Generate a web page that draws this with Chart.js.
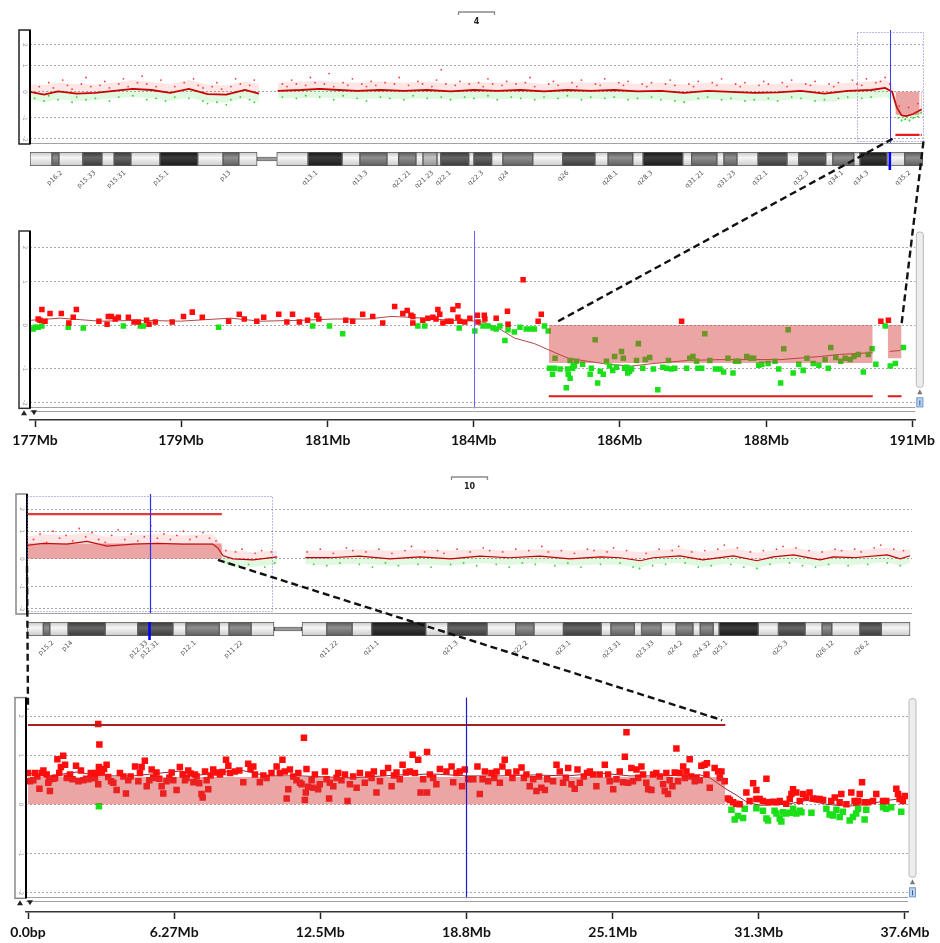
<!DOCTYPE html>
<html>
<head>
<meta charset="utf-8">
<script src="https://cdn.jsdelivr.net/npm/chart.js@4.4.1/dist/chart.umd.min.js"></script>
<style>
html, body { margin: 0; padding: 0; background: #fff; }
#wrap { position: relative; width: 940px; height: 943px; overflow: hidden; }
#wrap canvas { position: absolute; left: 0; }
</style>
</head>
<body>
<div id="wrap">
  <canvas id="c4o" style="top:0px" width="940" height="148"></canvas>
  <canvas id="c4i" style="top:152px" width="940" height="44"></canvas>
  <canvas id="c4z" style="top:227px" width="940" height="228"></canvas>
  <canvas id="c10o" style="top:465px" width="940" height="153"></canvas>
  <canvas id="c10i" style="top:622px" width="940" height="44"></canvas>
  <canvas id="c10z" style="top:693px" width="940" height="254"></canvas>
  <canvas id="ov" style="top:0px;pointer-events:none" width="940" height="943"></canvas>
</div>
<script>
// log ratio gridlines (outer lines labelled 2 / -2 sit a bit inside)
const yTickValues = [1.8, 1, 0, -1, -1.8];
const yTickLabels = ['2', '1', '0', '-1', '-2'];

// ---- chromosome 4 ----
const chr4Pos = [0, 3, 6, 10, 14, 18, 22, 26, 30, 34, 38, 42, 46, 49, 51, 53, 58, 62, 66, 70, 75, 80, 85, 90, 95, 100, 105, 110, 115, 120, 125, 130, 135, 140, 145, 150, 155, 160, 165, 170, 175, 180, 183, 184.5, 185.5, 186.5, 187.5, 189, 190.8];
const chr4Line = [0, -0.11, 0.02, -0.07, -0.04, 0.04, 0.11, 0.07, -0.04, 0.11, -0.09, -0.11, 0.07, -0.07, null, 0.04, 0.07, 0.11, 0.07, 0.04, 0.07, 0.04, 0.07, 0.02, 0.07, 0.04, 0.07, 0.02, 0.07, 0.04, 0.07, 0.02, 0.04, -0.04, 0.04, 0, -0.04, -0.02, 0.04, -0.07, 0.04, 0.07, 0.15, 0.0, -0.6, -0.9, -0.93, -0.85, -0.67];
const chr4Upper = [0.3, 0.25, 0.35, 0.3, 0.28, 0.35, 0.45, 0.38, 0.3, 0.45, 0.28, 0.25, 0.4, 0.3, null, 0.35, 0.4, 0.42, 0.38, 0.35, 0.4, 0.35, 0.4, 0.32, 0.38, 0.35, 0.38, 0.3, 0.38, 0.35, 0.38, 0.3, 0.35, 0.28, 0.35, 0.3, 0.28, 0.3, 0.35, 0.25, 0.35, 0.4, 0.45, 0.3, -0.6, -0.9, -0.93, -0.85, -0.67];
const chr4Lower = [-0.3, -0.4, -0.28, -0.35, -0.32, -0.25, -0.2, -0.25, -0.35, -0.22, -0.4, -0.42, -0.25, -0.38, null, -0.25, -0.25, -0.22, -0.25, -0.28, -0.25, -0.28, -0.25, -0.3, -0.25, -0.28, -0.25, -0.3, -0.25, -0.28, -0.25, -0.3, -0.28, -0.38, -0.28, -0.32, -0.36, -0.34, -0.28, -0.4, -0.28, -0.25, -0.2, -0.3, -0.85, -1.1, -1.12, -1.05, -0.9];
const chr4RedDots = [[2,0.2],[4,0.35],[5,0.15],[7,0.45],[8,0.25],[9,0.1],[11,0.3],[12,0.55],[13,0.2],[15,0.25],[16,0.4],[17,0.15],[19,0.3],[20,0.5],[21,0.2],[23,0.35],[24,0.6],[25,0.3],[27,0.2],[28,0.45],[31,0.2],[33,0.35],[35,0.5],[36,0.25],[37,0.15],[39,0.2],[40,0.35],[41,0.1],[43,0.2],[44,0.5],[45,0.3],[47,0.25],[48,0.45],[54,0.3],[55,0.2],[56,0.45],[57,0.3],[59,0.25],[60,0.55],[61,0.35],[63,0.3],[64,0.7],[65,0.2],[67,0.35],[68,0.25],[69,0.5],[71,0.3],[72,0.2],[73,0.4],[74,0.25],[76,0.35],[78,0.3],[79,0.55],[81,0.25],[83,0.4],[84,0.3],[86,0.2],[87,0.45],[88,0.85],[89,0.3],[91,0.25],[92,0.4],[94,0.3],[96,0.35],[97,0.2],[98,0.5],[99,0.3],[101,0.25],[102,0.4],[104,0.3],[106,0.35],[107,0.55],[108,0.2],[111,0.3],[112,0.4],[113,0.25],[116,0.35],[117,0.2],[118,0.45],[121,0.3],[122,0.25],[123,0.5],[126,0.35],[127,0.25],[128,0.4],[131,0.3],[132,0.2],[133,0.35],[136,0.3],[137,0.45],[138,0.25],[141,0.3],[142,0.2],[143,0.4],[146,0.35],[147,0.25],[148,0.5],[151,0.3],[152,0.2],[153,0.35],[156,0.25],[157,0.4],[158,0.3],[161,0.35],[162,0.2],[163,0.45],[166,0.3],[167,0.25],[168,0.4],[171,0.3],[172,0.2],[173,0.35],[176,0.45],[177,0.3],[178,0.25],[179,0.5],[181,0.35],[182,0.4],[183,0.55],[184,0.3],[186,-0.55],[188,-0.6],[190,-0.45]];
const chr4GreenDots = [[1,-0.25],[3,-0.35],[4,-0.15],[6,-0.3],[9,-0.4],[10,-0.2],[12,-0.3],[14,-0.25],[17,-0.35],[19,-0.2],[22,-0.15],[25,-0.3],[27,-0.25],[29,-0.35],[31,-0.2],[34,-0.25],[37,-0.35],[38,-0.45],[40,-0.4],[42,-0.5],[43,-0.3],[45,-0.2],[47,-0.3],[48,-0.4],[54,-0.2],[57,-0.25],[59,-0.15],[62,-0.2],[65,-0.3],[67,-0.15],[70,-0.25],[72,-0.35],[75,-0.2],[77,-0.25],[80,-0.3],[82,-0.15],[85,-0.25],[88,-0.2],[90,-0.3],[93,-0.2],[95,-0.25],[98,-0.15],[100,-0.3],[103,-0.2],[105,-0.25],[108,-0.3],[110,-0.2],[113,-0.25],[115,-0.15],[118,-0.3],[120,-0.2],[123,-0.25],[125,-0.2],[128,-0.3],[130,-0.25],[133,-0.2],[135,-0.3],[138,-0.35],[140,-0.4],[143,-0.25],[145,-0.2],[148,-0.3],[150,-0.25],[153,-0.35],[155,-0.3],[158,-0.25],[160,-0.35],[163,-0.2],[165,-0.25],[168,-0.35],[170,-0.3],[173,-0.25],[175,-0.2],[178,-0.25],[180,-0.2],[185.8,-1.0],[186.5,-1.1],[187.3,-1.05],[188.2,-1.1],[189,-1.0],[190,-0.95],[190.7,-0.8]];

const chr4Bands = [[0,4.7,'L'],[4.7,6.2,'G'],[6.2,11.3,'L'],[11.3,15.4,'D'],[15.4,18.0,'L'],[18.0,21.6,'D'],[21.6,27.8,'L'],[27.8,35.9,'K'],[35.9,41.3,'L'],[41.3,44.7,'G'],[44.7,48.6,'L'],[52.8,59.5,'L'],[59.5,66.8,'K'],[66.8,70.6,'L'],[70.6,76.4,'G'],[76.4,78.9,'L'],[78.9,82.6,'G'],[82.6,84.1,'L'],[84.1,87.1,'LG'],[87.1,87.9,'L'],[87.9,93.9,'D'],[93.9,95.0,'L'],[95.0,98.8,'D'],[98.8,101.2,'L'],[101.2,107.6,'G'],[107.6,114.0,'L'],[114.0,120.9,'D'],[120.9,123.7,'L'],[123.7,129.0,'G'],[129.0,131.2,'L'],[131.2,139.7,'K'],[139.7,141.6,'L'],[141.6,147.0,'G'],[147.0,148.5,'L'],[148.5,151.3,'G'],[151.3,155.8,'L'],[155.8,162.0,'D'],[162.0,164.5,'L'],[164.5,170.3,'D'],[170.3,171.8,'L'],[171.8,176.3,'G'],[176.3,177.6,'L'],[177.6,183.4,'K'],[183.4,187.2,'L'],[187.2,191.1,'G']];
const chr4Cen = [48.6, 52.8];
const chr4BandLabelPos = [6.8, 13.9, 20.3, 29.5, 42.8, 61.4, 72.1, 81.3, 86.2, 89.9, 96.9, 102.3, 115.1, 125.6, 133.1, 144.0, 150.8, 157.7, 166.5, 173.9, 179.3, 188.3];
const chr4BandLabels = ['p16.2', 'p15.33', 'p15.31', 'p15.1', 'p13', 'q13.1', 'q13.3', 'q21.21', 'q21.23', 'q22.1', 'q22.3', 'q24', 'q26', 'q28.1', 'q28.3', 'q31.21', 'q31.23', 'q32.1', 'q32.3', 'q34.1', 'q34.3', 'q35.2'];

// chr4 zoom 177-191 Mb
const zoom4Ticks = [177, 179.33, 181.67, 184, 186.33, 188.67, 191];
const zoom4TickLabels = ['177Mb', '179Mb', '181Mb', '184Mb', '186Mb', '188Mb', '191Mb'];
const zoom4Line = [[176.92,0.11],[177.40,0.16],[178.04,0.09],[178.68,0.11],[179.32,0.09],[180.12,0.16],[180.60,0.09],[181.23,0.11],[181.77,0.14],[182.31,0.14],[182.68,0.20],[183.00,0.18],[183.37,0.14],[183.64,0.11],[184.07,0.09],[184.20,0.05],[184.44,-0.11],[184.65,-0.30],[184.97,-0.43],[185.19,-0.57],[185.51,-0.77],[185.83,-0.84],[186.15,-0.91],[186.52,-0.95],[186.88,-0.89],[187.42,-0.82],[187.95,-0.80],[188.90,-0.80],[189.52,-0.73],[189.84,-0.68],[190.37,-0.64],[190.5,null],[190.64,-0.61],[190.81,-0.59]];
const zoom4Red = [[177.05,0.14],[177.11,0.36],[177.08,0.11],[177.16,0.09],[177.24,0.27],[177.42,0.27],[177.54,0.05],[177.61,0.18],[177.66,0.36],[178.02,0.09],[178.15,0.02],[178.17,0.20],[178.22,0.20],[178.28,0.14],[178.33,0.18],[178.49,0.18],[178.58,0.07],[178.65,0.07],[178.78,0.11],[178.82,0.02],[178.92,0.07],[179.19,0.07],[179.37,0.20],[179.51,0.30],[179.67,0.18],[180.09,0.09],[180.26,0.25],[180.34,0.14],[180.54,0.09],[180.65,0.18],[180.89,0.25],[181.02,0.07],[181.11,0.25],[181.22,0.07],[181.35,0.11],[181.50,0.23],[181.53,0.14],[181.96,0.11],[182.07,0.09],[182.23,0.25],[182.39,0.20],[182.55,0.05],[182.74,0.43],[182.87,0.27],[182.94,0.34],[183.00,0.23],[183.03,0.20],[183.03,0.05],[183.19,0.11],[183.27,0.16],[183.35,0.18],[183.40,0.14],[183.43,0.36],[183.46,0.25],[183.51,0.05],[183.58,0.09],[183.64,0.09],[183.67,0.36],[183.75,0.45],[183.75,0.18],[183.78,0.09],[183.86,0.07],[183.94,0.16],[184.06,0.23],[184.07,0.07],[184.17,0.23],[184.18,0.14],[184.36,0.16],[184.54,0.32],[184.55,0.02],[184.79,1.05],[185.08,0.25],[185.03,0.09],[187.32,0.09],[190.50,0.09],[190.62,0.11]];
const zoom4Green = [[176.97,-0.09],[177.00,-0.05],[177.05,-0.05],[177.11,-0.02],[177.53,-0.05],[177.77,-0.07],[178.41,-0.02],[178.68,-0.02],[178.73,-0.02],[179.93,-0.05],[181.43,-0.02],[181.70,-0.02],[181.91,-0.20],[183.11,-0.02],[183.22,-0.02],[183.77,-0.07],[184.02,-0.14],[184.15,-0.02],[184.23,-0.02],[184.31,-0.07],[184.36,-0.09],[184.42,-0.02],[184.50,-0.36],[184.55,-0.11],[184.65,-0.16],[184.74,-0.05],[184.84,-0.09],[184.92,-0.09],[184.97,-0.09],[185.13,-0.02],[185.19,-0.14],[185.30,-0.77],[185.21,-1.0],[185.26,-1.14],[185.29,-1.0],[185.38,-1.02],[185.50,-1.02],[185.54,-0.82],[185.59,-0.93],[185.64,-0.84],[185.51,-1.14],[185.54,-1.23],[185.48,-1.45],[185.58,-1.0],[185.61,-0.95],[185.74,-0.91],[185.86,-1.14],[185.88,-1.0],[185.94,-0.34],[185.98,-1.34],[186.02,-1.07],[186.07,-1.14],[186.12,-0.84],[186.17,-0.95],[186.22,-1.05],[186.25,-0.73],[186.28,-0.98],[186.36,-0.61],[186.39,-0.77],[186.44,-0.98],[186.49,-1.07],[186.41,-1.0],[186.46,-1.11],[186.52,-1.02],[186.60,-0.82],[186.63,-0.43],[186.70,-1.0],[186.74,-0.80],[186.81,-0.75],[186.87,-1.02],[186.94,-1.50],[187.02,-0.98],[187.08,-1.0],[187.11,-0.82],[187.16,-1.02],[187.21,-1.0],[187.40,-1.0],[187.45,-0.77],[187.50,-0.73],[187.56,-0.84],[187.58,-1.0],[187.64,-1.0],[187.69,-0.20],[187.77,-0.82],[187.86,-1.02],[187.93,-1.02],[187.99,-1.09],[188.06,-0.77],[188.14,-1.11],[188.18,-0.84],[188.23,-0.84],[188.36,-0.73],[188.42,-0.77],[188.47,-0.77],[188.55,-0.93],[188.60,-0.91],[188.70,-0.89],[188.81,-0.84],[188.87,-1.02],[188.90,-1.34],[188.95,-0.55],[189.02,-0.11],[189.10,-1.11],[189.19,-0.91],[189.26,-1.05],[189.32,-0.77],[189.42,-0.89],[189.51,-0.93],[189.61,-0.80],[189.66,-1.0],[189.70,-0.52],[189.78,-0.75],[189.86,-0.84],[189.93,-0.77],[190.01,-0.80],[190.07,-0.73],[190.14,-0.68],[190.22,-1.09],[190.30,-0.68],[190.36,-0.55],[190.42,-0.91],[190.57,-0.02],[190.65,-0.95],[190.73,-0.89],[190.86,-0.52]];
const seg4Start = [185.2, 190.61];
const seg4End = [190.37, 190.83];
const seg4Mean = [-0.88, -0.77];
const seg4Marker = -1.65;

// ---- chromosome 10 ----
const chr10Pos = [0, 2.5, 6.1, 9.2, 12.3, 16.3, 20, 23.9, 28.5, 29.3, 30.1, 31.6, 34.7, 38.4, 40.5, 42.7, 46.5, 51, 55.7, 60.3, 65, 69.5, 74, 78.7, 83.3, 88, 91, 94.1, 96.1, 100.2, 103.7, 108.4, 112, 114.5, 117.6, 121.7, 123.7, 126.8, 132, 134, 135.5];
const chr10Line = [0.49, 0.56, 0.53, 0.63, 0.46, 0.53, 0.56, 0.53, 0.53, 0.39, 0.11, 0, -0.04, 0.07, null, 0.04, 0.04, 0.1, 0, 0.07, 0, 0.1, 0.04, 0.1, 0, 0.07, 0.04, -0.07, 0.04, 0.11, -0.04, 0.11, -0.07, 0.07, 0.14, -0.04, 0.07, 0.04, 0.14, 0, 0.11];
const chr10Upper = [0.8, 0.9, 0.85, 0.95, 0.8, 0.85, 0.9, 0.85, 0.9, 0.7, 0.35, 0.3, 0.25, 0.3, null, 0.3, 0.3, 0.35, 0.3, 0.35, 0.3, 0.35, 0.3, 0.35, 0.3, 0.35, 0.3, 0.25, 0.3, 0.38, 0.25, 0.38, 0.22, 0.3, 0.4, 0.25, 0.35, 0.3, 0.4, 0.3, 0.35];
const chr10Lower = [0.49, 0.56, 0.53, 0.63, 0.46, 0.53, 0.56, 0.53, 0.53, 0.39, -0.15, -0.3, -0.3, -0.2, null, -0.2, -0.22, -0.18, -0.25, -0.2, -0.25, -0.15, -0.22, -0.15, -0.25, -0.2, -0.22, -0.32, -0.2, -0.15, -0.3, -0.15, -0.32, -0.2, -0.12, -0.3, -0.2, -0.22, -0.12, -0.25, -0.15];
const chr10RedDots = [[1,0.7],[2,0.9],[3,0.6],[4,1.0],[5,0.75],[6,0.85],[7,0.65],[8,1.1],[9,0.8],[10,0.95],[11,0.7],[12,0.6],[13,0.85],[14,1.05],[15,0.7],[16,0.9],[17,0.65],[18,0.8],[19,1.2],[20,0.75],[21,0.9],[22,0.7],[23,0.85],[24,1.0],[25,0.7],[26,0.8],[27,0.95],[28,0.75],[29,0.65],[30.5,0.3],[32,0.25],[33,0.35],[35,0.2],[36,0.3],[37.5,0.25],[43,0.25],[45,0.35],[47,0.2],[49,0.4],[50,0.3],[52,0.25],[54,0.35],[56,0.2],[58,0.3],[59,0.45],[61,0.25],[63,0.3],[64,0.2],[66,0.35],[68,0.25],[70,0.4],[71,0.3],[73,0.25],[75,0.35],[77,0.3],[79,0.45],[80,0.25],[82,0.3],[84,0.2],[86,0.35],[87,0.3],[89,0.25],[90,0.4],[92,0.3],[95,0.2],[97,0.35],[99,0.3],[100,0.45],[102,0.25],[104,0.3],[106,0.35],[107,0.5],[109,0.4],[111,0.25],[113,0.3],[115,0.35],[116,0.45],[118,0.4],[120,0.3],[122,0.25],[124,0.35],[125,0.3],[127,0.35],[128,0.25],[130,0.4],[131,0.5],[133,0.35],[134.5,0.3]];
const chr10GreenDots = [[30.8,-0.15],[32.5,-0.25],[34,-0.2],[36.5,-0.3],[38,-0.15],[44,-0.2],[46,-0.25],[48,-0.15],[51,-0.2],[53,-0.3],[55,-0.15],[57,-0.25],[60,-0.2],[62,-0.3],[65,-0.2],[67,-0.15],[69,-0.25],[72,-0.2],[74,-0.3],[76,-0.15],[78,-0.2],[81,-0.25],[83,-0.15],[85,-0.3],[88,-0.2],[91,-0.15],[93,-0.3],[94,-0.35],[96,-0.25],[98,-0.2],[101,-0.15],[103,-0.3],[105,-0.25],[108,-0.2],[110,-0.3],[112,-0.35],[114,-0.2],[117,-0.15],[119,-0.25],[121,-0.3],[123,-0.2],[126,-0.25],[129,-0.2],[132,-0.15],[134,-0.25]];

const chr10Bands = [[0,2.5,'L'],[2.5,3.5,'G'],[3.5,6.3,'L'],[6.3,12.0,'D'],[12.0,17.0,'L'],[17.0,22.4,'D'],[22.4,24.4,'L'],[24.4,29.5,'G'],[29.5,31.0,'L'],[31.0,34.4,'G'],[34.4,37.9,'L'],[42.2,46.0,'L'],[46.0,49.9,'G'],[49.9,52.9,'L'],[52.9,61.2,'K'],[61.2,64.6,'L'],[64.6,70.6,'D'],[70.6,75.0,'L'],[75.0,77.8,'G'],[77.8,82.3,'L'],[82.3,88.1,'D'],[88.1,89.6,'L'],[89.6,93.2,'G'],[93.2,94.3,'L'],[94.3,97.3,'G'],[97.3,99.6,'L'],[99.6,102.2,'G'],[102.2,103.3,'L'],[103.3,105.3,'G'],[105.3,106.2,'L'],[106.2,112.2,'K'],[112.2,115.3,'L'],[115.3,119.4,'D'],[119.4,122.0,'L'],[122.0,123.5,'G'],[123.5,127.8,'L'],[127.8,131.1,'D'],[131.1,135.5,'L']];
const chr10Cen = [37.9, 42.2];
const chr10BandLabelPos = [4.0, 6.9, 18.4, 20.1, 25.8, 33.0, 47.6, 53.9, 66.0, 76.7, 83.3, 91.0, 96.1, 100.5, 104.8, 107.4, 116.6, 123.7, 129.1];
const chr10BandLabels = ['p15.2', 'p14', 'p12.33', 'p12.31', 'p12.1', 'p11.22', 'q11.22', 'q21.1', 'q21.3', 'q22.2', 'q23.1', 'q23.31', 'q23.33', 'q24.2', 'q24.32', 'q25.1', 'q25.3', 'q26.12', 'q26.2'];

// chr10 zoom 0-37.6 Mb
const zoom10Ticks = [0, 6.27, 12.53, 18.8, 25.07, 31.33, 37.6];
const zoom10TickLabels = ['0.0bp', '6.27Mb', '12.5Mb', '18.8Mb', '25.1Mb', '31.3Mb', '37.6Mb'];
const zoom10Line = [[0,0.64],[0.94,0.58],[2.1,0.66],[3.09,0.58],[4.5,0.58],[6.52,0.68],[7.38,0.6],[9.09,0.7],[10.25,0.58],[11.66,0.58],[13.81,0.54],[15.95,0.6],[17.37,0.62],[18.83,0.58],[20.24,0.58],[21.66,0.6],[23.11,0.58],[24.53,0.64],[25.81,0.58],[26.8,0.58],[28.82,0.6],[29.24,0.54],[29.97,0.3],[30.4,0.18],[30.83,0.04],[31.39,-0.02],[32.55,0],[33.4,0.08],[34.26,0],[35.12,-0.04],[35.98,0],[36.84,0.08],[37.52,0.12]];
const zoom10Red = [[0.0,0.64],[0.09,0.47],[0.23,0.49],[0.30,0.64],[0.40,0.57],[0.49,0.32],[0.59,0.64],[0.66,0.69],[0.80,0.61],[0.87,0.44],[0.94,0.27],[0.91,0.49],[1.09,0.52],[1.16,0.54],[1.26,0.92],[1.34,0.64],[1.41,0.76],[1.51,0.99],[1.59,0.81],[1.66,0.54],[1.80,0.61],[1.91,0.51],[2.06,0.79],[2.16,0.47],[2.27,0.69],[2.37,0.49],[2.49,0.52],[2.59,0.51],[2.69,0.64],[2.73,0.54],[2.87,0.54],[2.94,0.64],[3.01,1.64],[3.06,1.22],[3.04,0.76],[3.01,0.41],[3.16,0.65],[3.26,0.72],[3.37,0.81],[3.44,0.56],[3.56,0.47],[3.66,0.44],[3.80,0.29],[3.94,0.64],[4.09,0.57],[4.20,0.22],[4.30,0.49],[4.40,0.57],[4.59,0.77],[4.73,0.47],[4.80,0.64],[4.87,0.76],[5.01,0.89],[5.09,0.37],[5.20,0.49],[5.30,0.71],[5.37,0.54],[5.51,0.65],[5.63,0.52],[5.73,0.37],[5.80,0.22],[5.94,0.47],[6.06,0.54],[6.16,0.65],[6.23,0.49],[6.37,0.29],[6.51,0.76],[6.63,0.61],[6.73,0.49],[6.80,0.54],[6.87,0.69],[6.97,0.63],[7.09,0.45],[7.16,0.61],[7.23,0.57],[7.34,0.43],[7.44,0.21],[7.49,0.14],[7.59,0.67],[7.66,0.49],[7.73,0.31],[7.83,0.59],[7.94,0.71],[8.09,0.65],[8.23,0.61],[8.34,0.66],[8.49,0.91],[8.59,0.79],[8.66,0.64],[8.87,0.67],[9.06,0.69],[9.23,0.45],[9.44,0.83],[9.54,0.72],[9.66,0.77],[9.73,0.61],[9.94,0.45],[10.09,0.59],[10.23,0.54],[10.44,0.64],[10.66,0.77],[10.80,0.64],[10.91,0.91],[11.01,0.67],[11.09,0.12],[11.16,0.31],[11.23,0.71],[11.37,0.57],[11.51,0.49],[11.59,0.64],[11.66,0.44],[11.73,0.41],[11.83,1.36],[11.87,0.09],[11.91,0.24],[11.94,0.72],[12.01,0.36],[12.16,0.49],[12.23,0.34],[12.30,0.61],[12.44,0.31],[12.51,0.41],[12.73,0.67],[12.80,0.51],[12.94,0.44],[12.91,0.12],[13.09,0.37],[13.23,0.54],[13.30,0.64],[13.44,0.49],[13.59,0.61],[13.70,0.07],[13.80,0.41],[13.94,0.57],[14.09,0.34],[14.23,0.64],[14.44,0.44],[14.59,0.61],[14.73,0.54],[14.83,0.67],[14.94,0.24],[15.09,0.47],[15.23,0.64],[15.44,0.74],[15.59,0.37],[15.69,0.59],[15.80,0.65],[15.94,0.51],[16.06,0.81],[16.20,0.65],[16.37,0.67],[16.49,1.01],[16.59,0.64],[16.73,0.91],[16.83,0.24],[16.94,0.51],[17.11,1.07],[17.11,0.24],[17.23,0.61],[17.37,0.54],[17.51,0.41],[17.66,0.72],[17.94,0.67],[18.16,0.77],[18.23,0.45],[18.37,0.64],[18.51,0.67],[18.61,0.37],[18.73,0.71],[18.87,0.51],[19.09,0.51],[19.27,0.77],[19.37,0.21],[19.49,0.51],[19.59,0.67],[19.73,0.47],[19.87,0.64],[19.99,0.54],[20.09,0.67],[20.23,0.44],[20.34,0.77],[20.44,0.91],[20.59,0.65],[20.77,0.54],[20.94,0.67],[21.16,0.75],[21.26,0.54],[21.37,0.61],[21.51,0.37],[21.66,0.51],[21.80,0.27],[21.91,0.57],[22.01,0.34],[22.16,0.29],[22.26,0.51],[22.51,0.47],[22.66,0.81],[22.80,0.67],[22.94,0.44],[23.06,0.54],[23.16,0.74],[23.30,0.41],[23.44,0.32],[23.56,0.71],[23.66,0.44],[23.83,0.57],[23.97,0.64],[24.09,0.67],[24.23,0.61],[24.37,0.37],[24.51,0.61],[24.73,0.81],[24.87,0.61],[24.94,0.47],[25.09,0.31],[25.23,0.51],[25.37,0.67],[25.51,0.45],[25.59,0.97],[25.66,1.47],[25.73,0.44],[25.87,0.74],[25.94,0.47],[26.09,0.71],[26.16,0.54],[26.30,0.77],[26.37,0.61],[26.51,0.44],[26.59,0.31],[26.73,0.29],[26.80,0.61],[26.94,0.64],[27.09,0.57],[27.23,0.41],[27.30,0.27],[27.37,0.64],[27.44,0.21],[27.51,0.49],[27.63,0.37],[27.73,0.65],[27.80,1.14],[27.87,0.47],[27.94,0.64],[28.09,0.77],[28.16,0.54],[28.23,0.67],[28.37,0.92],[28.44,0.57],[28.59,0.47],[28.66,0.54],[28.80,0.49],[28.87,0.79],[29.01,0.81],[29.09,0.61],[29.11,0.84],[29.23,0.34],[29.44,0.74],[29.59,0.67],[29.66,0.54],[29.73,0.67],[29.87,0.47],[30.01,0.12],[30.09,0.09],[30.23,0.04],[30.37,0.01],[30.51,0.0],[30.80,0.24],[30.94,0.07],[31.09,0.43],[31.23,0.29],[31.23,0.11],[31.37,0.11],[31.51,0.07],[31.66,0.52],[31.73,0.04],[31.94,0.05],[32.09,0.04],[32.23,0.07],[32.51,0.01],[32.66,0.11],[32.73,0.21],[32.80,0.31],[32.94,0.24],[33.09,0.07],[33.23,0.21],[33.37,0.14],[33.51,0.24],[33.66,0.12],[33.80,0.11],[33.94,0.11],[34.09,0.09],[34.44,0.07],[34.59,0.14],[34.80,0.04],[34.87,0.21],[35.09,0.0],[35.30,0.24],[35.44,0.07],[35.51,0.04],[35.59,0.07],[35.66,0.21],[35.76,0.45],[35.87,0.04],[36.01,0.04],[36.23,0.07],[36.37,0.21],[36.66,0.07],[36.80,0.07],[37.23,0.32],[37.30,0.21],[37.37,0.11],[37.51,0.07],[37.59,0.17]];
const zoom10Green = [[3.04,-0.04],[30.16,-0.11],[30.30,-0.31],[30.44,-0.24],[30.66,-0.28],[30.73,-0.09],[31.23,-0.08],[31.51,-0.13],[31.66,-0.29],[31.73,-0.33],[32.01,-0.13],[32.09,-0.19],[32.23,-0.29],[32.30,-0.35],[32.37,-0.16],[32.51,-0.19],[32.66,-0.17],[32.80,-0.09],[32.94,-0.19],[33.09,-0.13],[33.16,-0.16],[33.59,-0.17],[34.23,-0.09],[34.37,-0.21],[34.51,-0.23],[34.66,-0.11],[34.80,-0.26],[34.94,-0.15],[35.23,-0.33],[35.37,-0.26],[35.51,-0.19],[35.59,-0.09],[35.87,-0.31],[35.94,-0.11],[36.66,-0.06],[36.80,-0.09],[37.01,-0.06],[37.44,-0.15]];
const seg10Start = [0];
const seg10End = [29.9];
const seg10Mean = [0.56];
const seg10Marker = 1.62;

// dashed links: overview (x, y) -> zoom (x, y)
const links4 = [[184.6, -1.8, 185.3, 0.05], [191.2, -1.9, 190.83, 0.02]];
const links10 = [[0, -0.25, 0, 1.94], [29.3, -0.04, 29.76, 1.72]];

Chart.defaults.font.family = 'DejaVu Sans';

const stainShades = {
  L: ['#c4c4c4', '#f6f6f6', '#cacaca'],
  LG: ['#8c8c8c', '#c2c2c2', '#969696'],
  G: ['#565656', '#8f8f8f', '#5c5c5c'],
  D: ['#363636', '#666666', '#3a3a3a'],
  K: ['#161616', '#3c3c3c', '#1a1a1a']
};

function pts(arr) { return arr.map(p => ({ x: p[0], y: p[1] })); }
function zip(xs, ys) { return xs.map((x, i) => ({ x: x, y: ys[i] })); }

function yScale(min, max) {
  return {
    type: 'linear', min: min, max: max,
    afterBuildTicks: s => { s.ticks = yTickValues.map(v => ({ value: v })); },
    ticks: { display: false },
    grid: { color: '#a6a6a6', lineWidth: 1, drawTicks: false },
    border: { display: false, dash: [2, 2] }
  };
}

function segSets(starts, ends, means, fillColor) {
  return starts.map((s, i) => ({
    data: [{ x: s, y: means[i] }, { x: ends[i], y: means[i] }],
    showLine: true, borderWidth: 0, pointRadius: 0, fill: 'origin', backgroundColor: fillColor
  }));
}
function markerSets(starts, ends, level, color, w) {
  return starts.map((s, i) => ({
    data: [{ x: s, y: level }, { x: ends[i], y: level }],
    showLine: true, borderColor: color, borderWidth: w, pointRadius: 0
  }));
}

const decor = {
  id: 'decor',
  afterDatasetsDraw(chart, args, o) {
    if (!o.blue) return;
    const { ctx, chartArea: a } = chart;
    let px = chart.scales.x.getPixelForValue(o.blue.x);
    if (o.blue.w < 2) px = Math.round(px) + 0.5;
    const bot = o.boxBottom != null ? chart.scales.y.getPixelForValue(o.boxBottom) : a.bottom + (o.blue.extra || 0);
    ctx.save();
    ctx.strokeStyle = o.blue.color;
    ctx.lineWidth = o.blue.w;
    ctx.beginPath();
    ctx.moveTo(px, a.top - (o.blue.up || 0));
    ctx.lineTo(px, bot);
    ctx.stroke();
    ctx.restore();
  },
  afterDraw(chart, args, o) {
    const { ctx, chartArea: a } = chart;
    const x = chart.scales.x, y = chart.scales.y;
    ctx.save();
    if (o.bracket) {
      const t = chart.titleBlock;
      const cx = (t.left + t.right) / 2;
      ctx.strokeStyle = '#8a8a8a';
      ctx.lineWidth = 1.3;
      ctx.beginPath();
      ctx.moveTo(cx - 18, 15); ctx.lineTo(cx - 18, 12); ctx.lineTo(cx + 18, 12); ctx.lineTo(cx + 18, 15);
      ctx.stroke();
    }
    if (o.box) {
      const bot = o.boxBottom != null ? y.getPixelForValue(o.boxBottom) : a.bottom;
      (o.bottomLines || []).forEach(v => {
        const py = Math.round(y.getPixelForValue(v)) + 0.5;
        ctx.strokeStyle = '#a0a0a0';
        ctx.lineWidth = 1;
        ctx.beginPath(); ctx.moveTo(a.left, py); ctx.lineTo(a.right, py); ctx.stroke();
      });
      const l = a.left - 11, r = a.left;
      ctx.fillStyle = '#fff';
      ctx.fillRect(l, a.top, r - l, bot - a.top);
      ctx.strokeStyle = o.box;
      ctx.lineWidth = 1.5;
      ctx.strokeRect(l, a.top, r - l, bot - a.top);
      ctx.strokeStyle = '#000';
      ctx.lineWidth = 2;
      ctx.beginPath(); ctx.moveTo(r, a.top); ctx.lineTo(r, bot); ctx.stroke();
      ctx.fillStyle = '#9a9a9a';
      ctx.font = '6px DejaVu Sans';
      ctx.textAlign = 'center';
      ctx.textBaseline = 'middle';
      y.ticks.forEach((t, i) => {
        const py = y.getPixelForValue(t.value);
        ctx.save();
        ctx.translate((l + r) / 2, py);
        ctx.rotate(Math.PI / 2);
        ctx.fillText(yTickLabels[i], 0, 0);
        ctx.restore();
      });
      if (o.tri) {
        ctx.fillStyle = '#222';
        ctx.beginPath(); ctx.moveTo(l + 2, bot + 7); ctx.lineTo(l + 5, bot + 2); ctx.lineTo(l + 8, bot + 7); ctx.fill();
        ctx.beginPath(); ctx.moveTo(r + 1, bot + 2); ctx.lineTo(r + 7, bot + 2); ctx.lineTo(r + 4, bot + 7); ctx.fill();
      }
      if (o.scroll) {
        const sx = a.right + 1, sw = 7;
        ctx.fillStyle = '#ededed';
        ctx.strokeStyle = '#b8b8b8';
        ctx.lineWidth = 1;
        ctx.beginPath();
        ctx.roundRect(sx, a.top + 1, sw, bot - a.top - 22, 3);
        ctx.fill(); ctx.stroke();
        ctx.fillStyle = '#777';
        ctx.beginPath(); ctx.moveTo(sx + 1, bot - 14); ctx.lineTo(sx + sw / 2, bot - 19); ctx.lineTo(sx + sw - 1, bot - 14); ctx.fill();
        ctx.fillStyle = '#b9d3f2';
        ctx.strokeStyle = '#7c9cc8';
        ctx.fillRect(sx, bot - 11, sw, 10);
        ctx.strokeRect(sx + 0.5, bot - 10.5, sw - 1, 9);
        ctx.fillStyle = '#3a5a9a';
        ctx.fillRect(sx + 3, bot - 8, 1, 5);
      }
    }
    if (o.win) {
      const x1 = x.getPixelForValue(o.win[0]), x2 = x.getPixelForValue(o.win[1]);
      ctx.strokeStyle = '#7474e0';
      ctx.lineWidth = 1;
      ctx.setLineDash([1, 2]);
      ctx.strokeRect(Math.round(x1) + 0.5, a.top + 2.5, Math.round(x2 - x1), a.bottom - a.top - 5);
    }
    ctx.restore();
  }
};

const base = {
  responsive: false, animation: false, devicePixelRatio: 1, events: []
};

const hazeRed = 'rgba(255,60,60,0.13)';
const hazeGreen = 'rgba(40,210,40,0.14)';

function overview(id, cfg) {
  const lineIdx = cfg.segStart.length * 2;
  const datasets = [].concat(
    segSets(cfg.segStart, cfg.segEnd, cfg.segMean, 'rgba(210,55,55,0.45)'),
    markerSets(cfg.segStart, cfg.segEnd, cfg.marker, cfg.markerColor, 2.2),
    [{ data: zip(cfg.pos, cfg.line), showLine: true, borderColor: cfg.lineColor, borderWidth: cfg.lineWidth, pointRadius: 0 },
     { data: pts(cfg.red), pointRadius: 0.9, pointStyle: 'circle', backgroundColor: '#ff3a3a', borderWidth: 0 },
     { data: pts(cfg.green), pointRadius: 0.9, pointStyle: 'circle', backgroundColor: '#2ad22a', borderWidth: 0 },
     { data: zip(cfg.pos, cfg.upper), showLine: true, borderWidth: 0, pointRadius: 0,
       fill: { target: lineIdx, above: hazeRed, below: hazeGreen } },
     { data: zip(cfg.pos, cfg.lower), showLine: true, borderWidth: 0, pointRadius: 0,
       fill: { target: lineIdx, above: hazeRed, below: hazeGreen } }]
  );
  return new Chart(document.getElementById(id), {
    type: 'scatter',
    data: { datasets: datasets },
    options: Object.assign({}, base, {
      layout: { padding: { left: cfg.left, right: cfg.right, top: 0, bottom: 0 } },
      plugins: {
        legend: { display: false }, tooltip: { enabled: false },
        title: { display: true, text: cfg.title, color: '#222', font: { size: 8, weight: 'bold' }, padding: cfg.titlePad },
        decor: { bracket: true, box: cfg.boxColor, bottomLines: [-1.96], blue: cfg.blue, win: cfg.win }
      },
      scales: {
        x: { type: 'linear', display: false, min: cfg.xmin, max: cfg.xmax },
        y: yScale(cfg.ymin, cfg.ymax)
      }
    }),
    plugins: [decor]
  });
}

function ideogram(id, cfg) {
  return new Chart(document.getElementById(id), {
    type: 'bar',
    data: {
      labels: ['band'],
      datasets: [
        { data: cfg.bands.map(b => ({ x: [b[0], b[1]], y: 'band' })), grouped: false,
          barPercentage: 1, categoryPercentage: 1, borderWidth: 1, borderColor: '#5a5a5a', borderSkipped: false,
          backgroundColor: c => {
            const area = c.chart.chartArea;
            const sh = stainShades[cfg.bands[c.dataIndex][2]];
            if (!area) return sh[1];
            const g = c.chart.ctx.createLinearGradient(0, area.top, 0, area.bottom);
            g.addColorStop(0, sh[0]); g.addColorStop(0.4, sh[1]); g.addColorStop(1, sh[2]);
            return g;
          } },
        { data: [{ x: cfg.cen, y: 'band' }], grouped: false, barPercentage: 0.32, categoryPercentage: 1,
          borderWidth: 1, borderColor: '#444', borderSkipped: false, backgroundColor: '#9a9a9a' }
      ]
    },
    options: Object.assign({}, base, {
      indexAxis: 'y',
      layout: { padding: { left: cfg.left, right: cfg.right, top: 0, bottom: 0 } },
      plugins: { legend: { display: false }, tooltip: { enabled: false },
        decor: { blue: { x: cfg.blueX, color: '#0000ff', w: 2.6, up: 2, extra: 4 } } },
      scales: {
        x: { type: 'linear', min: cfg.xmin, max: cfg.xmax,
          afterBuildTicks: s => { s.ticks = cfg.labelPos.map(v => ({ value: v })); },
          afterFit: s => { s.height = 30; },
          ticks: { autoSkip: false, minRotation: 42, maxRotation: 42, padding: 3, color: '#555',
            font: { size: 6.5 }, callback: (v, i) => cfg.labels[i] },
          grid: { display: false, drawTicks: false }, border: { display: false } },
        y: { type: 'category', display: false }
      }
    }),
    plugins: [decor]
  });
}

function zoom(id, cfg) {
  const datasets = [].concat(
    segSets(cfg.segStart, cfg.segEnd, cfg.segMean, 'rgba(210,55,55,0.45)'),
    markerSets(cfg.segStart, cfg.segEnd, cfg.marker, cfg.markerColor, 2),
    [{ data: pts(cfg.red), pointStyle: 'rect', pointRadius: cfg.r, backgroundColor: '#ff0d0d', borderWidth: 0 },
     { data: pts(cfg.green), pointStyle: 'rect', pointRadius: cfg.r, backgroundColor: '#19e019', borderWidth: 0 },
     { data: pts(cfg.line), showLine: true, borderColor: cfg.lineColor, borderWidth: 1, pointRadius: 0 }]
  );
  return new Chart(document.getElementById(id), {
    type: 'scatter',
    data: { datasets: datasets },
    options: Object.assign({}, base, {
      layout: { padding: { left: cfg.left, right: cfg.right, top: 0, bottom: 0 } },
      plugins: { legend: { display: false }, tooltip: { enabled: false },
        decor: { box: cfg.boxColor, boxBottom: cfg.boxBottom, bottomLines: cfg.bottomLines,
          blue: cfg.blue, scroll: true, tri: true } },
      scales: {
        x: { type: 'linear', min: cfg.xmin, max: cfg.xmax,
          afterBuildTicks: s => { s.ticks = cfg.ticks.map(v => ({ value: v })); },
          afterFit: s => { s.height = 35; },
          ticks: { autoSkip: false, maxRotation: 0, padding: 5, color: '#111',
            font: { family: 'Lato', size: 14, weight: 'bold' }, callback: (v, i) => cfg.tickLabels[i] },
          grid: { drawOnChartArea: false, tickLength: 7, tickColor: '#222', tickWidth: 1.5 },
          border: { color: '#333', width: 1.5 } },
        y: yScale(-2.2, 2.18)
      }
    }),
    plugins: [decor]
  });
}

const c4o = overview('c4o', {
  title: '4', titlePad: { top: 17, bottom: 3.4 }, left: 30, right: 17, xmin: 0, xmax: 191.1, ymin: -2.0, ymax: 2.37,
  pos: chr4Pos, line: chr4Line, upper: chr4Upper, lower: chr4Lower, red: chr4RedDots, green: chr4GreenDots,
  segStart: seg4Start, segEnd: seg4End, segMean: seg4Mean, marker: seg4Marker, markerColor: '#e41a1a',
  lineColor: '#c80000', lineWidth: 1.8, boxColor: '#222', blue: { x: 184, color: '#3b3bff', w: 1 }, win: [177, 191.2]
});
const c4i = ideogram('c4i', {
  left: 30, right: 17, xmin: 0, xmax: 191.1, bands: chr4Bands, cen: chr4Cen,
  labelPos: chr4BandLabelPos, labels: chr4BandLabels, blueX: 184
});
const c4z = zoom('c4z', {
  left: 30, right: 24, xmin: 176.92, xmax: 191.05, ticks: zoom4Ticks, tickLabels: zoom4TickLabels,
  red: zoom4Red, green: zoom4Green, line: zoom4Line, r: 3.9, lineColor: '#b04848',
  segStart: seg4Start, segEnd: seg4End, segMean: seg4Mean, marker: seg4Marker, markerColor: '#e01a1a',
  boxColor: '#333', boxBottom: -1.93, bottomLines: [-1.91, -2.0], blue: { x: 184, color: '#6464ff', w: 1 }
});
const c10o = overview('c10o', {
  title: '10', titlePad: { top: 17.6, bottom: 1.8 }, left: 27, right: 28, xmin: 0, xmax: 135.8, ymin: -2.0, ymax: 2.35,
  pos: chr10Pos, line: chr10Line, upper: chr10Upper, lower: chr10Lower, red: chr10RedDots, green: chr10GreenDots,
  segStart: seg10Start, segEnd: seg10End, segMean: seg10Mean, marker: seg10Marker, markerColor: '#e23a3a',
  lineColor: '#c00000', lineWidth: 1.2, boxColor: '#888', blue: { x: 18.8, color: '#2b2bff', w: 1.2 }, win: [0, 37.6]
});
const c10i = ideogram('c10i', {
  left: 27, right: 28, xmin: 0, xmax: 135.8, bands: chr10Bands, cen: chr10Cen,
  labelPos: chr10BandLabelPos, labels: chr10BandLabels, blueX: 18.8
});
const c10z = zoom('c10z', {
  left: 26, right: 32, xmin: -0.086, xmax: 37.73, ticks: zoom10Ticks, tickLabels: zoom10TickLabels,
  red: zoom10Red, green: zoom10Green, line: zoom10Line, r: 4.6, lineColor: '#8a2a3a',
  segStart: seg10Start, segEnd: seg10End, segMean: seg10Mean, marker: seg10Marker, markerColor: '#a42424',
  boxColor: '#888', boxBottom: -1.92, bottomLines: [-1.9, -1.98], blue: { x: 18.8, color: '#1c1cc8', w: 1.2 }
});

// dashed connectors between overview segment and zoom panel
function drawLinks() {
  const ctx = document.getElementById('ov').getContext('2d');
  ctx.strokeStyle = '#111';
  ctx.lineWidth = 2.4;
  ctx.setLineDash([7, 4]);
  const pairs = [[c4o, c4z, links4], [c10o, c10z, links10]];
  pairs.forEach(([a, b, links]) => {
    links.forEach(l => {
      const x1 = a.scales.x.getPixelForValue(l[0]);
      const y1 = a.canvas.offsetTop + a.scales.y.getPixelForValue(l[1]);
      const x2 = b.scales.x.getPixelForValue(l[2]);
      const y2 = b.canvas.offsetTop + b.scales.y.getPixelForValue(l[3]);
      ctx.beginPath();
      ctx.moveTo(x1, y1);
      ctx.lineTo(x2, y2);
      ctx.stroke();
    });
  });
}
drawLinks();
</script>
</body>
</html>
